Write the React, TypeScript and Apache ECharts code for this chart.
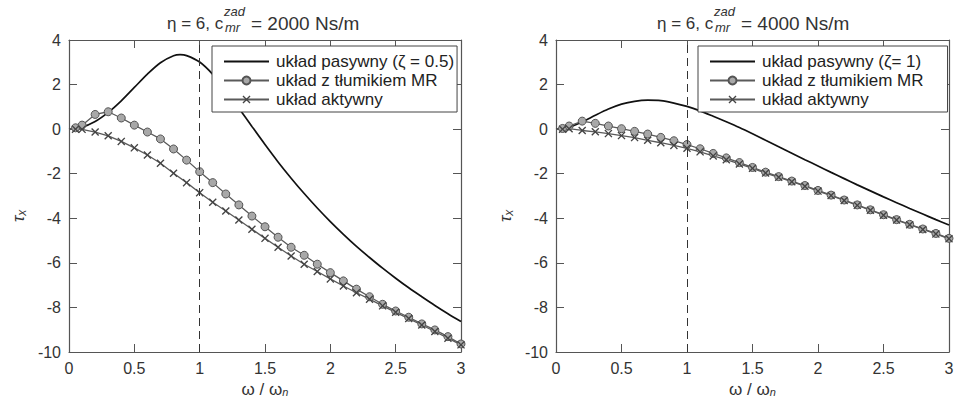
import React, { useEffect, useRef } from "react";
import * as echarts from "echarts";

// ---- data ----
const xPassiveLeft = [0, 0.1, 0.2, 0.3, 0.4, 0.5, 0.6, 0.7, 0.8, 0.85, 0.9, 1.0, 1.1, 1.2, 1.3, 1.4, 1.5, 1.6, 1.7, 1.8, 1.9, 2.0, 2.1, 2.2, 2.3, 2.4, 2.5, 2.6, 2.7, 2.8, 2.9, 3.0];
const passiveLeft = [0, 0.09, 0.34, 0.75, 1.27, 1.87, 2.47, 2.98, 3.29, 3.34, 3.3, 3.01, 2.46, 1.74, 0.94, 0.12, -0.69, -1.47, -2.2, -2.89, -3.54, -4.15, -4.72, -5.26, -5.76, -6.24, -6.69, -7.12, -7.52, -7.91, -8.28, -8.63];
const xPassiveRight = [0, 0.1, 0.2, 0.3, 0.4, 0.5, 0.6, 0.7, 0.8, 0.9, 1.0, 1.1, 1.2, 1.3, 1.4, 1.5, 1.6, 1.7, 1.8, 1.9, 2.0, 2.1, 2.2, 2.3, 2.4, 2.5, 2.6, 2.7, 2.8, 2.9, 3.0];
const passiveRight = [0, 0.09, 0.32, 0.62, 0.9, 1.12, 1.25, 1.3, 1.28, 1.17, 1.02, 0.82, 0.58, 0.33, 0.07, -0.21, -0.5, -0.79, -1.08, -1.37, -1.65, -1.94, -2.22, -2.5, -2.77, -3.04, -3.3, -3.56, -3.81, -4.06, -4.3];

const xMarks = [0, 0.05, 0.1, 0.2, 0.3, 0.4, 0.5, 0.6, 0.7, 0.8, 0.9, 1.0, 1.1, 1.2, 1.3, 1.4, 1.5, 1.6, 1.7, 1.8, 1.9, 2.0, 2.1, 2.2, 2.3, 2.4, 2.5, 2.6, 2.7, 2.8, 2.9, 3.0];
const mrLeft = [0, 0.06, 0.18, 0.66, 0.78, 0.5, 0.18, -0.13, -0.44, -0.89, -1.39, -1.91, -2.4, -2.91, -3.4, -3.9, -4.38, -4.85, -5.3, -5.66, -6.06, -6.44, -6.81, -7.18, -7.52, -7.86, -8.16, -8.44, -8.74, -9.01, -9.31, -9.64];
const activeLeft = [0, 0, -0.01, -0.13, -0.3, -0.55, -0.84, -1.16, -1.53, -1.98, -2.4, -2.85, -3.28, -3.67, -4.08, -4.49, -4.9, -5.3, -5.69, -6.06, -6.39, -6.72, -7.04, -7.34, -7.63, -7.93, -8.22, -8.5, -8.79, -9.08, -9.38, -9.68];
const mrRight = [0, 0.03, 0.14, 0.36, 0.26, 0.14, 0.02, -0.1, -0.22, -0.37, -0.52, -0.69, -0.88, -1.09, -1.29, -1.5, -1.72, -1.93, -2.13, -2.33, -2.53, -2.75, -2.96, -3.18, -3.4, -3.62, -3.84, -4.06, -4.27, -4.48, -4.68, -4.9];
const activeRight = [0, 0, 0.02, -0.06, -0.12, -0.2, -0.29, -0.38, -0.5, -0.61, -0.73, -0.86, -1.02, -1.2, -1.37, -1.56, -1.76, -1.97, -2.16, -2.36, -2.56, -2.78, -2.98, -3.2, -3.42, -3.64, -3.86, -4.08, -4.29, -4.5, -4.7, -4.92];

const nameMR = "układ z tłumikiem MR";
const nameActive = "układ aktywny";
const namePassiveLeft = "układ pasywny (ζ = 0.5)";
const namePassiveRight = "układ pasywny (ζ= 1)";
const titleValues = ["= 2000 Ns/m", "= 4000 Ns/m"];
const xTicks = { min: 0, max: 3, interval: 0.5 };
const yTicks = { min: -10, max: 4, interval: 2 };

const FONT = "'Liberation Sans', Arial, sans-serif";
const TXT = "#333";
const AX = "#555";
const CROSS = "path://M0,1.2L1.2,0L5,3.8L8.8,0L10,1.2L6.2,5L10,8.8L8.8,10L5,6.2L1.2,10L0,8.8L3.8,5Z";

const grids = [
  { left: 69, top: 40, width: 392, height: 312 },
  { left: 556, top: 40, width: 393, height: 312 },
];

function pairs(xs: number[], ys: number[], firstNoSymbol: boolean) {
  return xs.map((x, i) =>
    firstNoSymbol && i === 0 ? { value: [x, ys[i]], symbol: "none" } : [x, ys[i]]
  );
}

function xAxisFor(gi: number, pos: "bottom" | "top") {
  const bottom = pos === "bottom";
  return {
    type: "value",
    gridIndex: gi,
    position: pos,
    ...xTicks,
    name: bottom ? "{a|ω / ω}{b|n}" : "",
    nameLocation: "middle",
    nameGap: 26,
    nameTextStyle: {
      rich: {
        a: { fontFamily: FONT, fontSize: 17, color: TXT, lineHeight: 18 },
        b: { fontFamily: FONT, fontSize: 11, fontStyle: "italic", color: TXT, lineHeight: 11, padding: [6, 0, 0, 0] },
      },
    },
    axisLine: { show: true, onZero: false, lineStyle: { color: AX, width: 1.2 } },
    axisTick: { show: true, inside: true, length: 8, lineStyle: { color: AX } },
    axisLabel: {
      show: bottom,
      fontFamily: FONT,
      fontSize: 16,
      color: TXT,
      margin: 8,
      formatter: (v: number) => String(v),
    },
    splitLine: { show: false },
  };
}

function yAxisFor(gi: number, pos: "left" | "right") {
  const left = pos === "left";
  return {
    type: "value",
    gridIndex: gi,
    position: pos,
    ...yTicks,
    axisLine: { show: true, onZero: false, lineStyle: { color: AX, width: 1.2 } },
    axisTick: { show: true, inside: true, length: 8, lineStyle: { color: AX } },
    axisLabel: { show: left, fontFamily: FONT, fontSize: 16, color: TXT, margin: 8 },
    splitLine: { show: false },
  };
}

function seriesFor(
  gi: number,
  passiveName: string,
  xPassive: number[],
  passive: number[],
  mr: number[],
  active: number[]
) {
  const xi = gi * 2;
  const yi = gi * 2;
  return [
    {
      name: passiveName,
      type: "line",
      xAxisIndex: xi,
      yAxisIndex: yi,
      smooth: 0.3,
      symbol: "none",
      lineStyle: { color: "#111", width: 1.7 },
      itemStyle: { color: "rgba(0,0,0,0)", borderWidth: 0 },
      data: xPassive.map((x, i) => [x, passive[i]]),
      z: 3,
      markLine: {
        silent: true,
        symbol: "none",
        label: { show: false },
        lineStyle: { color: "#333", type: [8, 5], width: 1 },
        data: [{ xAxis: 1 }],
      },
    },
    {
      name: nameMR,
      type: "line",
      xAxisIndex: xi,
      yAxisIndex: yi,
      symbol: "circle",
      symbolSize: 8,
      lineStyle: { color: "#5a5a5a", width: 1.3 },
      itemStyle: { color: "#a8a8a8", borderColor: "#555", borderWidth: 1 },
      data: pairs(xMarks, mr, true),
      z: 4,
    },
    {
      name: nameActive,
      type: "line",
      xAxisIndex: xi,
      yAxisIndex: yi,
      symbol: CROSS,
      symbolSize: 8,
      lineStyle: { color: "#5a5a5a", width: 1.3 },
      itemStyle: { color: "#444" },
      data: pairs(xMarks, active, true),
      z: 4,
    },
  ];
}

function legendFor(left: number, names: string[], padRight: number) {
  return {
    data: names,
    orient: "vertical",
    left,
    top: 46,
    padding: [7, padRight, 4, 11],
    itemWidth: 45,
    itemHeight: 10,
    itemGap: 2,
    borderColor: "#444",
    borderWidth: 1,
    borderRadius: 0,
    backgroundColor: "#fff",
    selectedMode: false,
    textStyle: { fontFamily: FONT, fontSize: 17, color: "#222", lineHeight: 17, padding: [0, 0, 0, 2] },
  };
}

function titleGraphic(startX: number, supLeft: number, valLeft: number, value: string) {
  return [
    {
      type: "text",
      x: startX,
      y: 15,
      style: { text: "η = 6, c", font: `17px ${FONT}`, fill: TXT },
    },
    {
      type: "text",
      x: supLeft,
      y: 5,
      style: { text: "zad", font: `italic 13px ${FONT}`, fill: TXT },
    },
    {
      type: "text",
      x: supLeft + 1,
      y: 21,
      style: { text: "mr", font: `italic 13px ${FONT}`, fill: TXT },
    },
    {
      type: "text",
      x: valLeft,
      y: 14,
      style: { text: value, font: `19px ${FONT}`, fill: TXT },
    },
  ];
}

function yNameGraphic(x: number) {
  return {
    type: "text",
    x,
    y: 222,
    rotation: Math.PI / 2,
    style: {
      text: "{a|τ}{b|x}",
      rich: {
        a: { font: `italic 17px ${FONT}`, fill: TXT },
        b: { font: `italic 12px ${FONT}`, fill: TXT, padding: [7, 0, 0, 0] },
      },
    },
  };
}

export default function App() {
  const ref = useRef<HTMLDivElement>(null);
  useEffect(() => {
    if (!ref.current) return;
    const chart = echarts.init(ref.current, undefined, { renderer: "svg" });
    chart.setOption({
      animation: false,
      backgroundColor: "#fff",
      grid: grids.map((g) => ({ ...g, containLabel: false, outerBoundsMode: "none" })),
      xAxis: [xAxisFor(0, "bottom"), xAxisFor(0, "top"), xAxisFor(1, "bottom"), xAxisFor(1, "top")],
      yAxis: [yAxisFor(0, "left"), yAxisFor(0, "right"), yAxisFor(1, "left"), yAxisFor(1, "right")],
      legend: [
        legendFor(212, [namePassiveLeft, nameMR, nameActive], 3),
        legendFor(698, [namePassiveRight, nameMR, nameActive], 24),
      ],
      series: [
        ...seriesFor(0, namePassiveLeft, xPassiveLeft, passiveLeft, mrLeft, activeLeft),
        ...seriesFor(1, namePassiveRight, xPassiveRight, passiveRight, mrRight, activeRight),
      ],
      graphic: [
        ...titleGraphic(167, 224, 251, titleValues[0]),
        ...titleGraphic(657, 714, 741, titleValues[1]),
        yNameGraphic(9),
        yNameGraphic(496),
      ],
    });
    return () => chart.dispose();
  }, []);
  return (
    <div
      ref={ref}
      style={{ position: "fixed", left: 0, top: 0, width: 954, height: 400, background: "#fff" }}
    />
  );
}
